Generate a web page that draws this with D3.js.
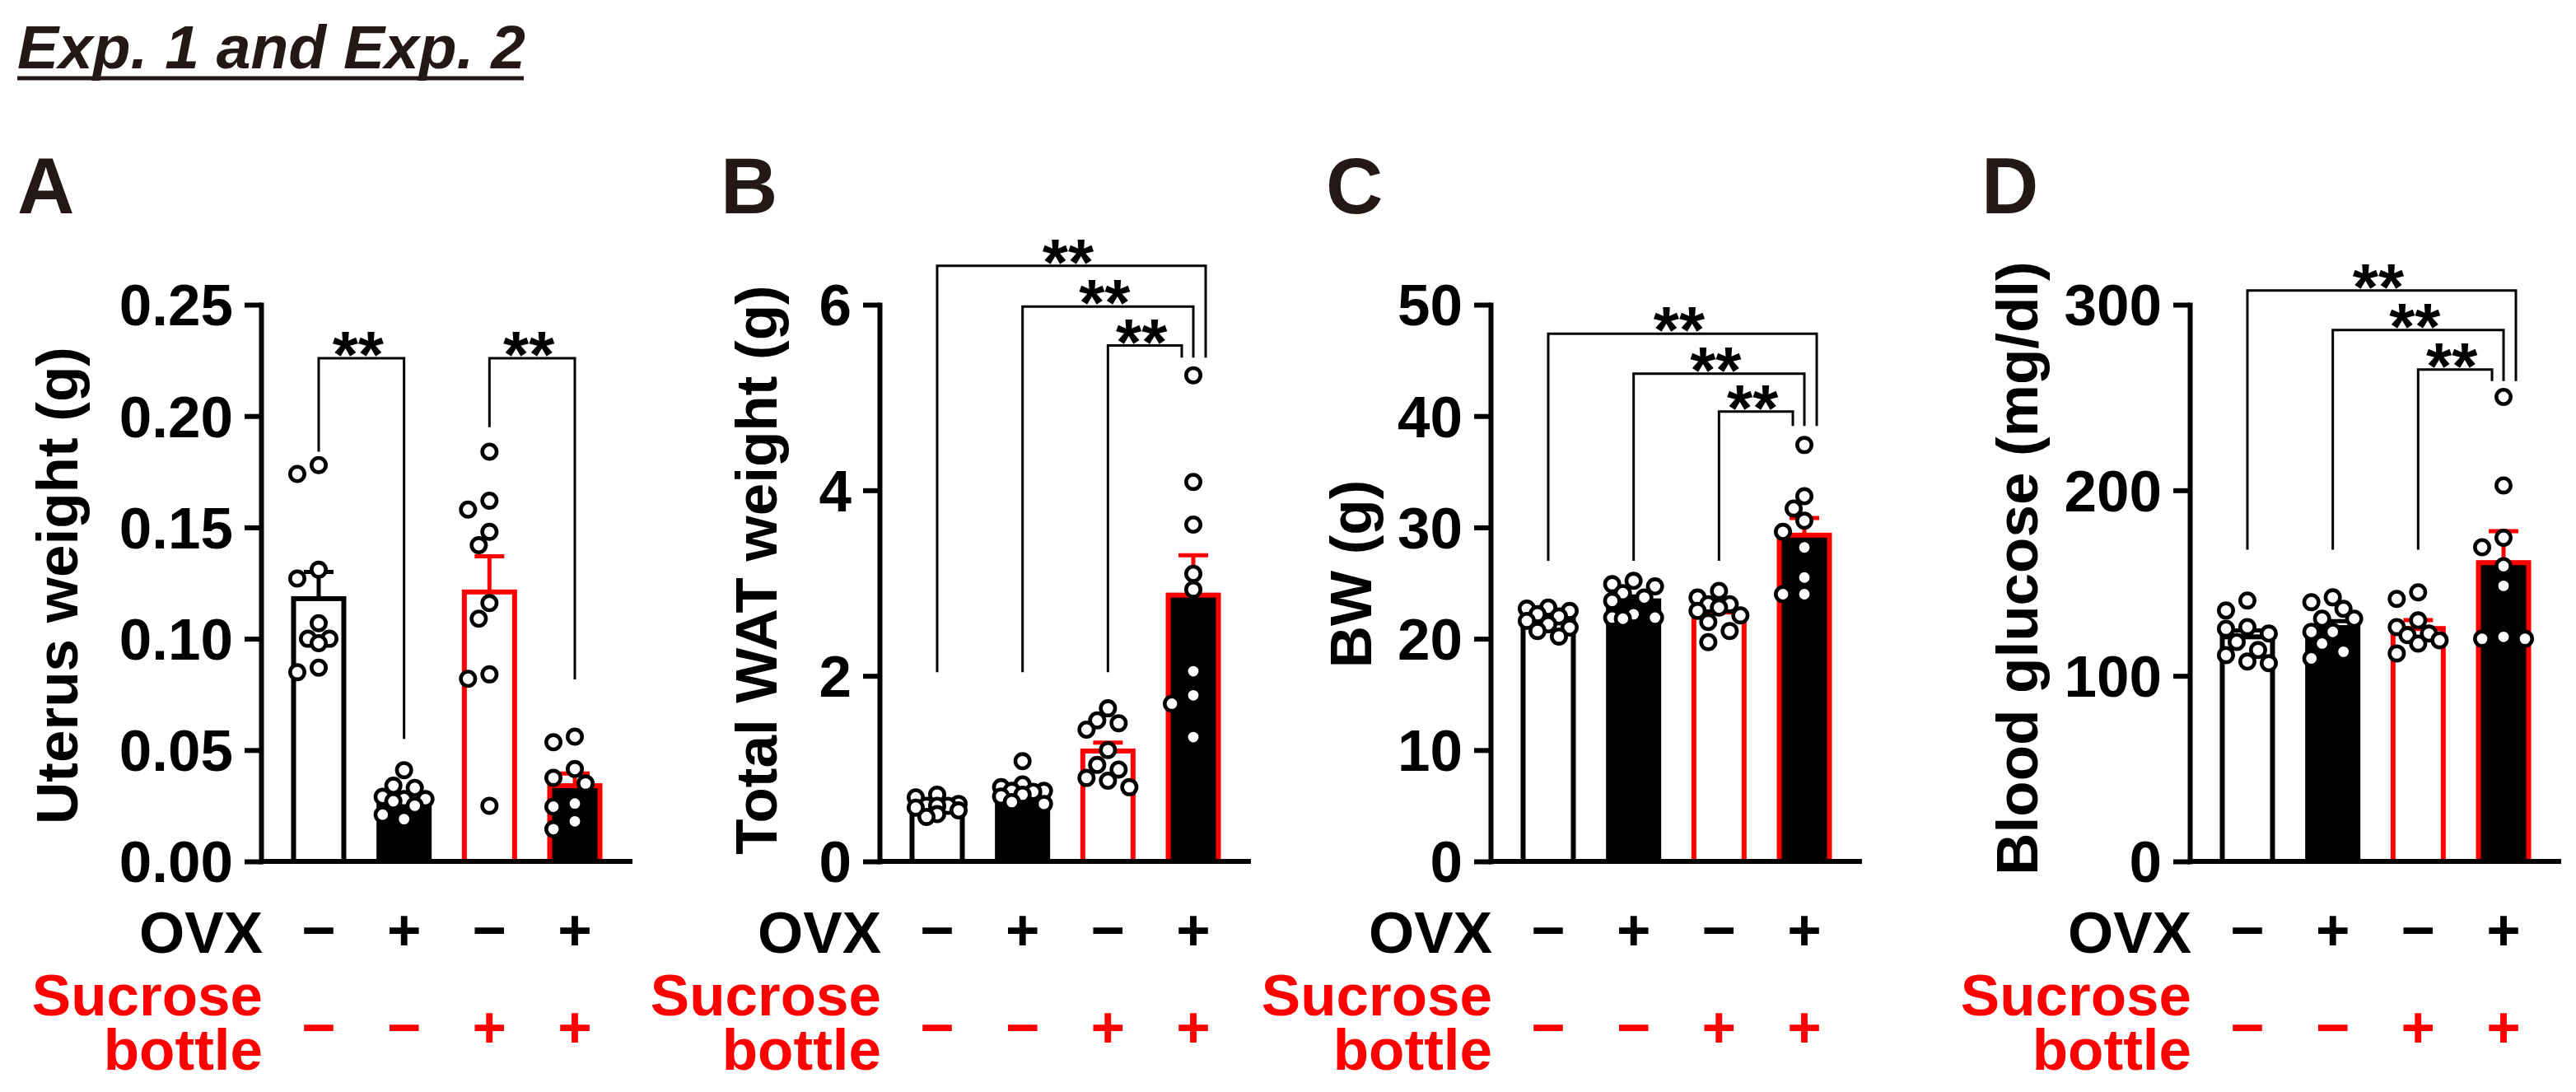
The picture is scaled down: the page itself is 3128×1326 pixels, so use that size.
<!DOCTYPE html>
<html><head><meta charset="utf-8">
<script src="https://cdn.jsdelivr.net/npm/d3@7"></script>
<style>html,body{margin:0;padding:0;background:#fff}svg{display:block}</style>
</head><body>
<svg id="chart" width="3128" height="1326"></svg>
<script>
// ---------- DATA ----------
const groups = ["Sham", "OVX", "Sham + Sucrose", "OVX + Sucrose"];
const ovxSigns = ["\u2212", "+", "\u2212", "+"];
const sucroseSigns = ["\u2212", "\u2212", "+", "+"];

// Panel A: uterus weight (g)
const uterusPoints = [
  [0.178, 0.174, 0.131, 0.127, 0.107, 0.100, 0.100, 0.098, 0.087, 0.085],
  [0.041, 0.034, 0.033, 0.029, 0.028, 0.028, 0.027, 0.025, 0.021, 0.019],
  [0.184, 0.162, 0.158, 0.148, 0.142, 0.116, 0.109, 0.084, 0.082, 0.025],
  [0.056, 0.0535, 0.0415, 0.0375, 0.035, 0.026, 0.0246, 0.018, 0.0145]
];
const uterusMean = [0.118, 0.027, 0.121, 0.034];
const uterusSem = [0.012, 0.003, 0.016, 0.0055];
const uterusTicks = [0, 0.05, 0.10, 0.15, 0.20, 0.25];
// [from, to, bracket top, left leg end, right leg end]
const uterusBrackets = [[0, 1, 0.226, 0.184, 0.055], [2, 3, 0.226, 0.195, 0.0817]];

// Panel B: total WAT weight (g)
const watPoints = [
  [0.72, 0.69, 0.62, 0.60, 0.60, 0.60, 0.58, 0.55, 0.51, 0.48],
  [1.08, 0.83, 0.80, 0.76, 0.76, 0.75, 0.72, 0.70, 0.64, 0.62],
  [1.65, 1.52, 1.49, 1.42, 1.20, 1.04, 0.99, 0.90, 0.87, 0.80],
  [5.24, 4.09, 3.63, 3.10, 2.93, 2.05, 1.79, 1.70, 1.34]
];
const watMean = [0.60, 0.77, 1.19, 2.87];
const watSem = [0.025, 0.04, 0.09, 0.43];
const watTicks = [0, 2, 4, 6];
const watBrackets = [[0, 3, 6.42, 2.04, 5.43], [1, 3, 5.98, 2.04, 5.43], [2, 3, 5.56, 2.04, 5.43]];

// Panel C: body weight (g)
const bwPoints = [
  [22.8, 22.7, 22.5, 22.2, 22.0, 21.6, 21.3, 21.0, 20.7, 20.2],
  [25.2, 24.9, 24.7, 24.1, 23.7, 23.4, 22.2, 21.9, 21.9, 21.8],
  [24.3, 23.7, 23.1, 23.1, 22.8, 22.5, 22.1, 21.5, 20.7, 19.7],
  [37.4, 32.8, 31.7, 30.6, 29.6, 28.2, 25.5, 24.0, 24.0]
];
const bwMean = [21.7, 23.4, 22.4, 29.3];
const bwSem = [0.3, 0.4, 0.45, 1.55];
const bwTicks = [0, 10, 20, 30, 40, 50];
const bwBrackets = [[0, 3, 47.4, 27.0, 39.1], [1, 3, 43.8, 27.0, 39.1], [2, 3, 40.4, 27.0, 39.1]];

// Panel D: blood glucose (mg/dl)
const glucosePoints = [
  [140.6, 135.2, 126.3, 125.4, 122.8, 118.3, 113.9, 111.2, 107.7, 106.8],
  [142.3, 139.7, 136.1, 130.8, 130.8, 123.7, 123.7, 117.4, 113.0, 109.4],
  [145.0, 141.5, 129.9, 126.3, 122.8, 121.9, 119.2, 117.4, 112.1],
  [250.3, 202.6, 174.4, 169.3, 159.1, 148.5, 121.0, 120.0, 120.0]
];
const glucoseMean = [121, 126, 125.5, 161];
const glucoseSem = [3.5, 3.5, 4.5, 17];
const glucoseTicks = [0, 100, 200, 300];
const glucoseBrackets = [[0, 3, 307.7, 168, 258.8], [1, 3, 286.4, 168, 258.8], [2, 3, 265.1, 168, 258.8]];

// ---------- STYLE / LAYOUT ----------
const W = 3128, H = 1326;
const FONT = "'Liberation Sans', Arial, Helvetica, sans-serif";
const RED = "#ff0000", BLACK = "#000000", DARK = "#231815";
const FS = 71;
const Y_TOP = 370, Y_BOT = 1046, PLOT_W = 451;
const barFill = ["#ffffff", BLACK, "#ffffff", BLACK];
const barStroke = [BLACK, BLACK, RED, RED];

const panels = [
  {letter: "A", label: "Uterus weight (g)", pts: uterusPoints, mean: uterusMean, sem: uterusSem, ticks: uterusTicks, fmt: d3.format(".2f"), brackets: uterusBrackets, axisX: 317, letterX: 21, labelX: 94, labelCY: 711},
  {letter: "B", label: "Total WAT weight (g)", pts: watPoints, mean: watMean, sem: watSem, ticks: watTicks, fmt: d3.format("d"), brackets: watBrackets, axisX: 1068, letterX: 875, labelX: 943, labelCY: 692},
  {letter: "C", label: "BW (g)", pts: bwPoints, mean: bwMean, sem: bwSem, ticks: bwTicks, fmt: d3.format("d"), brackets: bwBrackets, axisX: 1810, letterX: 1610, labelX: 1665, labelCY: 697},
  {letter: "D", label: "Blood glucose (mg/dl)", pts: glucosePoints, mean: glucoseMean, sem: glucoseSem, ticks: glucoseTicks, fmt: d3.format("d"), brackets: glucoseBrackets, axisX: 2659, letterX: 2406, labelX: 2474, labelCY: 690}
];

const svg = d3.select("#chart");
svg.append("rect").attr("width", W).attr("height", H).attr("fill", "#fff");

// Title
svg.append("text").attr("x", 21).attr("y", 83)
  .attr("font-family", FONT).attr("font-weight", "bold").attr("font-style", "italic")
  .attr("font-size", 75).attr("fill", DARK).text("Exp. 1 and Exp. 2");
svg.append("line").attr("x1", 21).attr("x2", 636).attr("y1", 95).attr("y2", 95)
  .attr("stroke", DARK).attr("stroke-width", 5);

// compact scatter layout (points spread sideways only when they collide)
function swarm(values, xc, y) {
  const step = 13, minD = 19;
  const cands = [0, -step, step, -2 * step, 2 * step];
  const placed = [];
  const order = values.slice().sort((a, b) => b - a);
  for (const v of order) {
    const py = y(v);
    let best = 0, bestD = -1;
    for (const c of cands) {
      const d = placed.length ? d3.min(placed, p => Math.hypot(p.x - (xc + c), p.y - py)) : Infinity;
      if (d >= minD) { best = c; bestD = Infinity; break; }
      if (d > bestD) { bestD = d; best = c; }
    }
    placed.push({x: xc + best, y: py});
  }
  return placed;
}

panels.forEach(p => {
  const g = svg.append("g");
  const x = d3.scalePoint().domain(groups).range([p.axisX, p.axisX + PLOT_W]).padding(0.675);
  const y = d3.scaleLinear().domain([0, d3.max(p.ticks)]).range([Y_BOT, Y_TOP]);
  const BW = 61;

  // panel letter
  g.append("text").attr("x", p.letterX).attr("y", 259)
    .attr("font-family", FONT).attr("font-weight", "bold").attr("font-size", 96)
    .attr("fill", DARK).text(p.letter);

  // bars
  g.selectAll("rect.bar").data(groups).join("rect").attr("class", "bar")
    .attr("x", d => x(d) - BW / 2).attr("width", BW)
    .attr("y", (d, i) => y(p.mean[i])).attr("height", (d, i) => y(0) - y(p.mean[i]))
    .attr("fill", (d, i) => barFill[i]).attr("stroke", (d, i) => barStroke[i]).attr("stroke-width", 6);

  // y axis
  const ax = g.append("g").attr("transform", `translate(${p.axisX},0)`)
    .call(d3.axisLeft(y).tickValues(p.ticks).tickFormat(p.fmt).tickSize(20).tickSizeOuter(0).tickPadding(14));
  ax.select(".domain").attr("stroke", BLACK).attr("stroke-width", 6).attr("stroke-linecap", "square");
  ax.selectAll(".tick line").attr("stroke", BLACK).attr("stroke-width", 6);
  ax.selectAll(".tick text").attr("font-family", FONT).attr("font-weight", "bold")
    .attr("font-size", FS).attr("fill", BLACK).attr("dy", "0.35em");

  // x axis line
  g.append("line").attr("x1", x.range()[0]).attr("x2", x.range()[1])
    .attr("y1", y(0)).attr("y2", y(0)).attr("stroke", BLACK).attr("stroke-width", 6);

  // error bars (upper SEM)
  groups.forEach((d, i) => {
    const xc = x(d), top = y(p.mean[i] + p.sem[i]);
    g.append("line").attr("x1", xc).attr("x2", xc).attr("y1", y(p.mean[i])).attr("y2", top)
      .attr("stroke", barStroke[i]).attr("stroke-width", 5);
    g.append("line").attr("x1", xc - 18).attr("x2", xc + 18).attr("y1", top).attr("y2", top)
      .attr("stroke", barStroke[i]).attr("stroke-width", 5);
  });

  // significance brackets
  const rightOffsets = p.brackets.length === 3 ? [15, 0, -14] : [0, 0];
  p.brackets.forEach((b, k) => {
    const xl = x(groups[b[0]]), xr = x(groups[b[1]]) + rightOffsets[k];
    const yt = y(b[2]);
    g.append("path")
      .attr("d", `M${xl},${y(b[3])}V${yt}H${xr}V${y(b[4])}`)
      .attr("fill", "none").attr("stroke", BLACK).attr("stroke-width", 3);
    g.append("text").attr("x", (xl + xr) / 2 - 4).attr("y", yt + 23)
      .attr("text-anchor", "middle").attr("font-family", FONT).attr("font-weight", "bold")
      .attr("font-size", 80).attr("fill", BLACK).text("**");
  });

  // individual points
  groups.forEach((d, i) => {
    const pos = swarm(p.pts[i], x(d), y);
    g.selectAll(null).data(pos).join("circle")
      .attr("cx", q => q.x).attr("cy", q => q.y).attr("r", 8.7)
      .attr("fill", "#fff").attr("stroke", BLACK).attr("stroke-width", 4.6);
  });

  // y label
  g.append("text").attr("transform", `translate(${p.labelX},${p.labelCY}) rotate(-90)`)
    .attr("text-anchor", "middle").attr("font-family", FONT).attr("font-weight", "bold")
    .attr("font-size", FS).attr("fill", BLACK).text(p.label);

  // row labels
  g.append("text").attr("x", p.axisX + 2).attr("y", 1157).attr("text-anchor", "end")
    .attr("font-family", FONT).attr("font-weight", "bold").attr("font-size", FS).attr("fill", BLACK).text("OVX");
  const suc = g.append("text").attr("text-anchor", "end")
    .attr("font-family", FONT).attr("font-weight", "bold").attr("font-size", FS).attr("fill", RED);
  suc.append("tspan").attr("x", p.axisX + 2).attr("y", 1233).text("Sucrose");
  suc.append("tspan").attr("x", p.axisX + 2).attr("y", 1299).text("bottle");

  g.selectAll("text.ovx").data(groups).join("text").attr("class", "ovx")
    .attr("x", d => x(d)).attr("y", 1133).attr("dy", "0.3em").attr("text-anchor", "middle")
    .attr("font-family", FONT).attr("font-weight", "bold").attr("font-size", FS).attr("fill", BLACK)
    .text((d, i) => ovxSigns[i]);
  g.selectAll("text.suc").data(groups).join("text").attr("class", "suc")
    .attr("x", d => x(d)).attr("y", 1251).attr("dy", "0.3em").attr("text-anchor", "middle")
    .attr("font-family", FONT).attr("font-weight", "bold").attr("font-size", FS).attr("fill", RED)
    .text((d, i) => sucroseSigns[i]);
});
</script>
</body></html>
